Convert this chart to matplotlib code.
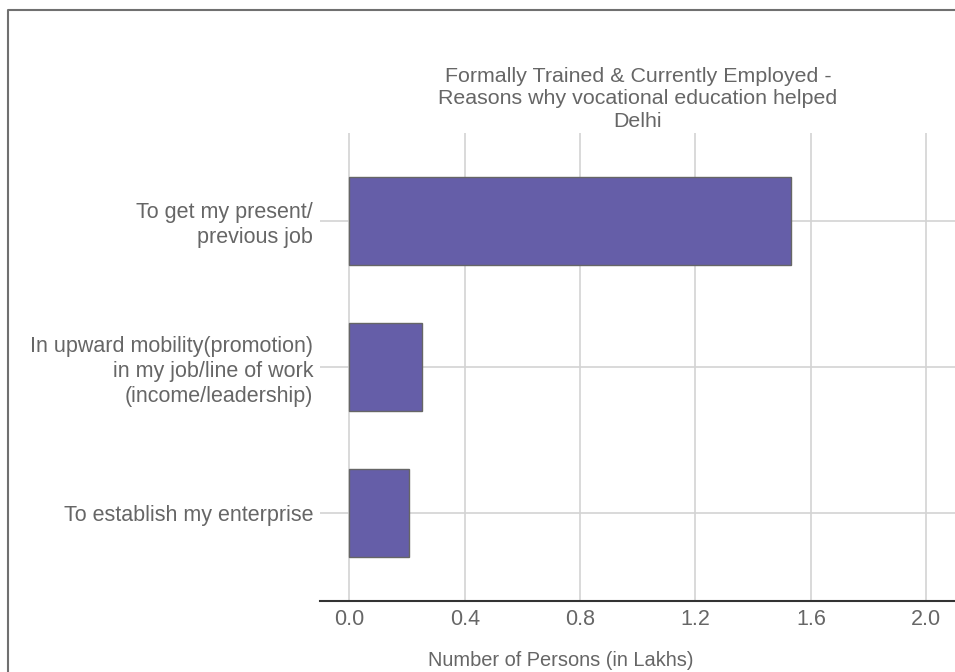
import matplotlib as mpl
mpl.use('agg')
import matplotlib.pyplot as plt

categories = ['To get my present/\nprevious job',
              'In upward mobility(promotion)\nin my job/line of work\n(income/leadership)',
              'To establish my enterprise']
values = [1.533, 0.252, 0.205]
xticks = [0.0, 0.4, 0.8, 1.2, 1.6, 2.0]
title = ('Formally Trained & Currently Employed -\n'
         'Reasons why vocational education helped\nDelhi')
xlabel = 'Number of Persons (in Lakhs)'

grey = '#666666'
plt.rcParams['font.family'] = ['Liberation Sans', 'DejaVu Sans']

fig = plt.figure(figsize=(9.55, 6.72), dpi=100)
ax = fig.add_axes([320/955, 71/672, 635/955, 468/672])

ypos = list(range(len(categories)))
ax.barh(ypos, values, height=0.6, color='#655ea8', edgecolor=grey,
        linewidth=1.0, zorder=3)
ax.set_ylim(len(categories) - 0.4, -0.6)
ax.set_xlim(-0.102, 2.10)
ax.set_yticks(ypos)
ax.set_yticklabels(categories, fontsize=15.5, color=grey, linespacing=1.24)
ax.set_xticks(xticks)
ax.set_xticklabels(['{:.1f}'.format(t) for t in xticks], fontsize=15.5, color=grey)
ax.tick_params(axis='y', length=0, pad=5)
ax.tick_params(axis='x', length=0, pad=6)
ax.grid(True, color='#d3d3d3', linewidth=1.2, zorder=0)
for s in ['top', 'right', 'left']:
    ax.spines[s].set_visible(False)
ax.spines['bottom'].set_color('#333333')
ax.spines['bottom'].set_linewidth(1.5)

fig.text(638/955, 1 - 99/672, title, ha='center', va='center',
         fontsize=15.4, color=grey, linespacing=1.22)
fig.text(561/955, 1 - 660/672, xlabel, ha='center', va='center',
         fontsize=14.4, color=grey)

# frame on top and left
fig.add_artist(plt.Line2D([8/955, 8/955, 1], [0, 1 - 10/672, 1 - 10/672],
                          transform=fig.transFigure, color='#707070',
                          linewidth=1.5))

fig.savefig('out.png')
